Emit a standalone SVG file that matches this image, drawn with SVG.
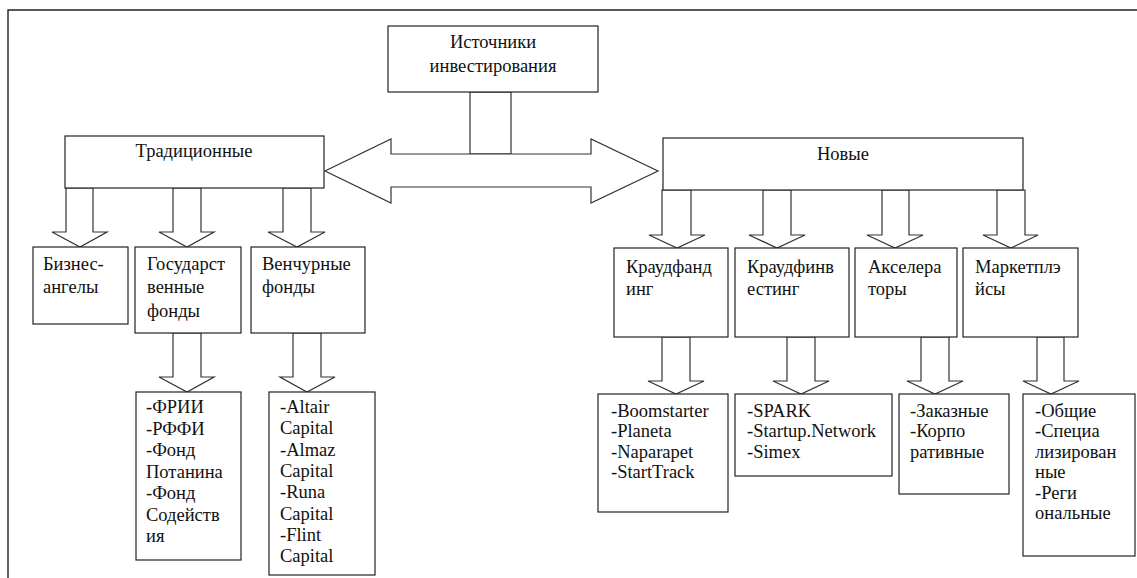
<svg xmlns="http://www.w3.org/2000/svg" width="1137" height="578" viewBox="0 0 1137 578">
<style>
.b{fill:#fff;stroke:#222;stroke-width:1.2}
.a{fill:#fff;stroke:#333;stroke-width:1.2}
.f{fill:none;stroke:#222;stroke-width:1.4}
text{font-family:'Liberation Serif','Times New Roman',serif;font-size:18.5px;fill:#111}
.c{text-anchor:middle}
</style>
<rect width="1137" height="578" fill="#fff"/>
<g id="frame">
<path class="f" d="M8,578 V10 H1137"/>
</g>
<g id="connectors">
<rect class="a" x="470" y="92" width="41" height="62"/>
<polygon class="a" points="325,171 391,139 391,154 591,154 591,139 658,171 591,203 591,187 391,187 391,203"/>
<polygon class="a" points="66,188 66,232 52,232 80,247 107,232 93,232 93,188"/>
<polygon class="a" points="173,188 173,232 159,232 187,247 214,232 201,232 201,188"/>
<polygon class="a" points="283,188 283,232 268,232 297,247 325,232 311,232 311,188"/>
<polygon class="a" points="662,190 662,235 649,235 677,248 705,235 691,235 691,190"/>
<polygon class="a" points="763,190 763,235 749,235 777,248 805,235 791,235 791,190"/>
<polygon class="a" points="882,190 882,235 867,235 895,248 923,235 909,235 909,190"/>
<polygon class="a" points="997,190 997,235 983,235 1011,248 1038,235 1025,235 1025,190"/>
<polygon class="a" points="173,333 173,377 159,377 187,392 214,377 201,377 201,333"/>
<polygon class="a" points="293,333 293,377 280,377 307,392 335,377 321,377 321,333"/>
<polygon class="a" points="662,337 662,381 648,381 676,394 704,381 690,381 690,337"/>
<polygon class="a" points="787,337 787,381 773,381 801,394 829,381 815,381 815,337"/>
<polygon class="a" points="921,337 921,381 907,381 935,394 963,381 949,381 949,337"/>
<polygon class="a" points="1037,337 1037,381 1023,381 1051,394 1079,381 1064,381 1064,337"/>
</g>
<g id="root">
<rect class="b" x="388" y="26" width="210" height="66"/>
<text class="c" x="493" y="48">Источники</text>
<text class="c" x="493" y="72">инвестирования</text>
</g>
<g id="traditional">
<rect class="b" x="65" y="136" width="259" height="52"/>
<text class="c" x="194" y="157">Традиционные</text>
</g>
<g id="new">
<rect class="b" x="663" y="138" width="360" height="52"/>
<text class="c" x="843" y="160">Новые</text>
</g>
<g id="business-angels">
<rect class="b" x="33" y="247" width="95" height="77"/>
<text x="43" y="270">Бизнес-<tspan x="43" dy="23">ангелы</tspan></text>
</g>
<g id="state-funds">
<rect class="b" x="135" y="247" width="106" height="86"/>
<text x="147" y="270">Государст<tspan x="147" dy="23">венные</tspan><tspan x="147" dy="23.5">фонды</tspan></text>
</g>
<g id="venture-funds">
<rect class="b" x="251" y="247" width="114" height="86"/>
<text x="262" y="270">Венчурные<tspan x="262" dy="23">фонды</tspan></text>
</g>
<g id="state-list">
<rect class="b" x="136" y="392" width="105" height="168"/>
<text x="146" y="413">-ФРИИ<tspan x="146" dy="21.5">-РФФИ</tspan><tspan x="146" dy="21.5">-Фонд</tspan><tspan x="146" dy="21.5">Потанина</tspan><tspan x="146" dy="21.5">-Фонд</tspan><tspan x="146" dy="21.5">Содейств</tspan><tspan x="146" dy="21.5">ия</tspan></text>
</g>
<g id="venture-list">
<rect class="b" x="269" y="392" width="106" height="183"/>
<text x="280" y="413">-Altair<tspan x="280" dy="21.3">Capital</tspan><tspan x="280" dy="21.3">-Almaz</tspan><tspan x="280" dy="21.3">Capital</tspan><tspan x="280" dy="21.3">-Runa</tspan><tspan x="280" dy="21.3">Capital</tspan><tspan x="280" dy="21.3">-Flint</tspan><tspan x="280" dy="21.3">Capital</tspan></text>
</g>
<g id="crowdfunding">
<rect class="b" x="614" y="248" width="114" height="89"/>
<text x="626" y="273">Краудфанд<tspan x="626" dy="22">инг</tspan></text>
</g>
<g id="crowdinvesting">
<rect class="b" x="735" y="248" width="114" height="89"/>
<text x="747" y="273">Краудфинв<tspan x="747" dy="22">естинг</tspan></text>
</g>
<g id="accelerators">
<rect class="b" x="855" y="248" width="102" height="89"/>
<text x="868" y="273">Акселера<tspan x="868" dy="22">торы</tspan></text>
</g>
<g id="marketplaces">
<rect class="b" x="963" y="248" width="115" height="89"/>
<text x="975" y="273">Маркетплэ<tspan x="975" dy="22">йсы</tspan></text>
</g>
<g id="crowdfunding-list">
<rect class="b" x="598" y="394" width="130" height="118"/>
<text x="611" y="417">-Boomstarter<tspan x="611" dy="20.4">-Planeta</tspan><tspan x="611" dy="20.4">-Naparapet</tspan><tspan x="611" dy="20.4">-StartTrack</tspan></text>
</g>
<g id="crowdinvesting-list">
<rect class="b" x="735" y="394" width="157" height="82"/>
<text x="747" y="417">-SPARK<tspan x="747" dy="20.4">-Startup.Network</tspan><tspan x="747" dy="20.4">-Simex</tspan></text>
</g>
<g id="accelerators-list">
<rect class="b" x="899" y="394" width="110" height="100"/>
<text x="910" y="417">-Заказные<tspan x="910" dy="20.4">-Корпо</tspan><tspan x="910" dy="20.4">ративные</tspan></text>
</g>
<g id="marketplaces-list">
<rect class="b" x="1023" y="394" width="112" height="162"/>
<text x="1035" y="417">-Общие<tspan x="1035" dy="20.4">-Специа</tspan><tspan x="1035" dy="20.4">лизирован</tspan><tspan x="1035" dy="20.4">ные</tspan><tspan x="1035" dy="20.4">-Реги</tspan><tspan x="1035" dy="20.4">ональные</tspan></text>
</g>
</svg>
